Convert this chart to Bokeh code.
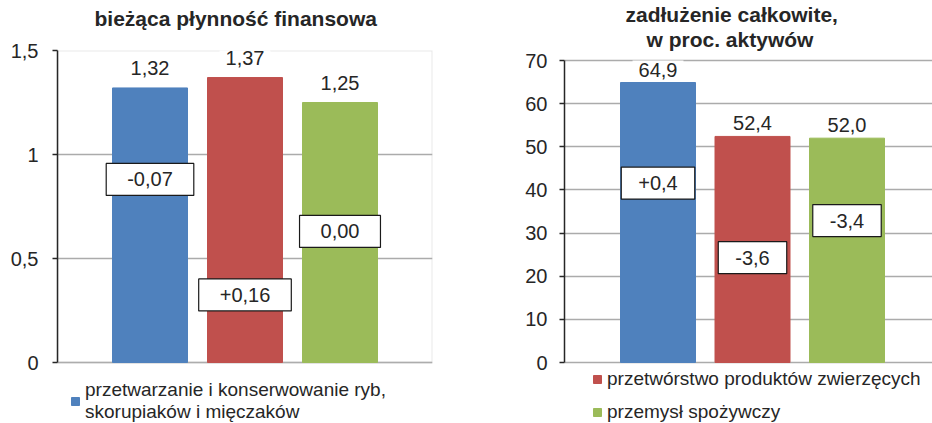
import numpy as np
from bokeh.plotting import figure
from bokeh.models import (ColumnDataSource, Range1d, FixedTicker, Title, Legend,
                          LegendItem, BoxAnnotation)
from bokeh.layouts import row
from bokeh.core.properties import value
from bokeh.embed import file_html
from bokeh.resources import INLINE

# ---------------- data ----------------
series = ["przetwarzanie i konserwowanie ryb,\nskorupiaków i mięczaków",
          "przetwórstwo produktów zwierzęcych",
          "przemysł spożywczy"]
colors = ["#4F81BD", "#C0504D", "#9BBB59"]

liq_values = [1.32, 1.37, 1.25]
liq_labels = ["1,32", "1,37", "1,25"]
liq_change = ["-0,07", "+0,16", "0,00"]
liq_change_pos = [0.88, 0.325, 0.63]
liq_ticks = [0, 0.5, 1, 1.5]
liq_tick_labels = ["0", "0,5", "1", "1,5"]

debt_values = [64.9, 52.4, 52.0]
debt_labels = ["64,9", "52,4", "52,0"]
debt_change = ["+0,4", "-3,6", "-3,4"]
debt_change_pos = [41.6, 24.3, 32.9]
debt_ticks = [0, 10, 20, 30, 40, 50, 60, 70]
debt_tick_labels = ["0", "10", "20", "30", "40", "50", "60", "70"]

FONT = "Liberation Sans"
GRID = "#ababab"
BORDER = "#b3b3b3"
AXIS = "#262626"
TXT = "#262626"
FS = "20px"

TOP = 50          # frame top (px)
ZERO = 362        # pixel row of the value 0
H = 423


def make_chart(vals, labels, changes, change_pos, ticks, tick_labels, ymax, top_px,
               width, bl, br, xr, bar_w, lab_off, pad_h, boxed, standoff):
    x = np.arange(len(vals))
    src = ColumnDataSource(dict(x=x, top=vals, lab=labels, ch=changes,
                                chy=change_pos, color=colors))
    ppu = (ZERO - top_px) / ymax
    y_start = -(H - ZERO) / ppu
    y_end = ymax + (top_px - TOP) / ppu
    p = figure(width=width, height=H, output_backend="svg", toolbar_location=None,
               x_range=Range1d(*xr), y_range=Range1d(y_start, y_end), x_axis_type=None,
               min_border_left=bl, min_border_right=br, min_border_top=TOP,
               min_border_bottom=0)
    p.background_fill_color = "white"
    p.border_fill_color = "white"
    p.outline_line_color = None
    p.xgrid.visible = False
    p.ygrid.grid_line_color = GRID
    p.ygrid.grid_line_width = 1.5
    p.yaxis.ticker = FixedTicker(ticks=ticks)
    p.yaxis.bounds = (0, ymax)
    p.yaxis.major_label_overrides = {t: l for t, l in zip(ticks, tick_labels)}
    p.yaxis.axis_line_color = AXIS
    p.yaxis.axis_line_width = 1.5
    p.yaxis.major_tick_line_color = AXIS
    p.yaxis.major_tick_line_width = 1.5
    p.yaxis.major_tick_out = 5
    p.yaxis.major_tick_in = 0
    p.yaxis.minor_tick_line_color = None
    p.yaxis.major_label_text_font = FONT
    p.yaxis.major_label_text_font_size = FS
    p.yaxis.major_label_text_color = TXT
    p.yaxis.major_label_standoff = standoff
    if boxed:
        p.add_layout(BoxAnnotation(bottom=0, top=ymax, fill_alpha=0,
                                   line_color=BORDER, line_width=2, level="underlay"))

    bars = p.vbar(x="x", top="top", width=bar_w, bottom=0, color="color", source=src)

    p.text(x="x", y="top", text="lab", source=src, y_offset=-lab_off,
           text_align="center", text_baseline="middle", text_font=value(FONT),
           text_font_size=FS, text_color=TXT, background_fill_color="white",
           padding=(6, 6, 2, 2))
    p.text(x="x", y="chy", text="ch", source=src,
           text_align="center", text_baseline="middle", text_font=value(FONT),
           text_font_size=FS, text_color=TXT, background_fill_color="white",
           border_line_color="#1a1a1a", border_line_width=1.2,
           padding=(pad_h, pad_h, 9, 9))
    return p, bars


# left chart: frame 57..432; 1,5 at y=50, 0 at y=362
u1 = 95.0
left0 = -92.5 / u1
p1, b1 = make_chart(liq_values, liq_labels, liq_change, liq_change_pos, liq_ticks,
                    liq_tick_labels, 1.5, 50, 470, 57, 38,
                    (left0, left0 + 375 / u1), 75 / u1, 20, 21, True, 14)
# right chart: frame 564..932; 70 at y=60, 0 at y=362
u2 = 94.5
left2 = -93.5 / u2
p2, b2 = make_chart(debt_values, debt_labels, debt_change, debt_change_pos, debt_ticks,
                    debt_tick_labels, 70, 60, 462, 94, 0,
                    (left2, left2 + 368 / u2), 75 / u2, 13, 17, False, 12)

# titles
TFS = "21px"
spacer = Title(text=" ", text_font=FONT, text_font_size="17px", standoff=0)
t1 = Title(text="bieżąca płynność finansowa", align="left", offset=37,
           text_font=FONT, text_font_size=TFS, text_font_style="bold",
           text_color=TXT, standoff=0)
p1.add_layout(spacer, "above")
p1.add_layout(t1, "above")
t2b = Title(text="w proc. aktywów", align="left", offset=82,
            text_font=FONT, text_font_size=TFS, text_font_style="bold",
            text_color=TXT, standoff=0)
t2a = Title(text="zadłużenie całkowite,", align="left", offset=61,
            text_font=FONT, text_font_size=TFS, text_font_style="bold",
            text_color=TXT, standoff=0)
p2.add_layout(t2b, "above")
p2.add_layout(t2a, "above")


def style_legend(lg):
    lg.glyph_width = 10
    lg.glyph_height = 10
    lg.label_standoff = 5
    lg.padding = 0
    lg.margin = 0
    lg.spacing = 11
    lg.border_line_color = None
    lg.background_fill_alpha = 0
    lg.label_text_font = FONT
    lg.label_text_font_size = "19px"
    lg.label_text_color = TXT
    lg.label_text_line_height = 1.0
    lg.label_height = 20


lg1 = Legend(items=[LegendItem(label=series[0], renderers=[b1], index=0)],
             location=(13, 0))
style_legend(lg1)
p1.add_layout(lg1, "center")

lg2 = Legend(items=[LegendItem(label=series[1], renderers=[b2], index=1),
                    LegendItem(label=series[2], renderers=[b2], index=2)],
             location=(28, 0))
style_legend(lg2)
p2.add_layout(lg2, "center")

layout = row(p1, p2)
open("out.html", "w").write(file_html(layout, INLINE))
